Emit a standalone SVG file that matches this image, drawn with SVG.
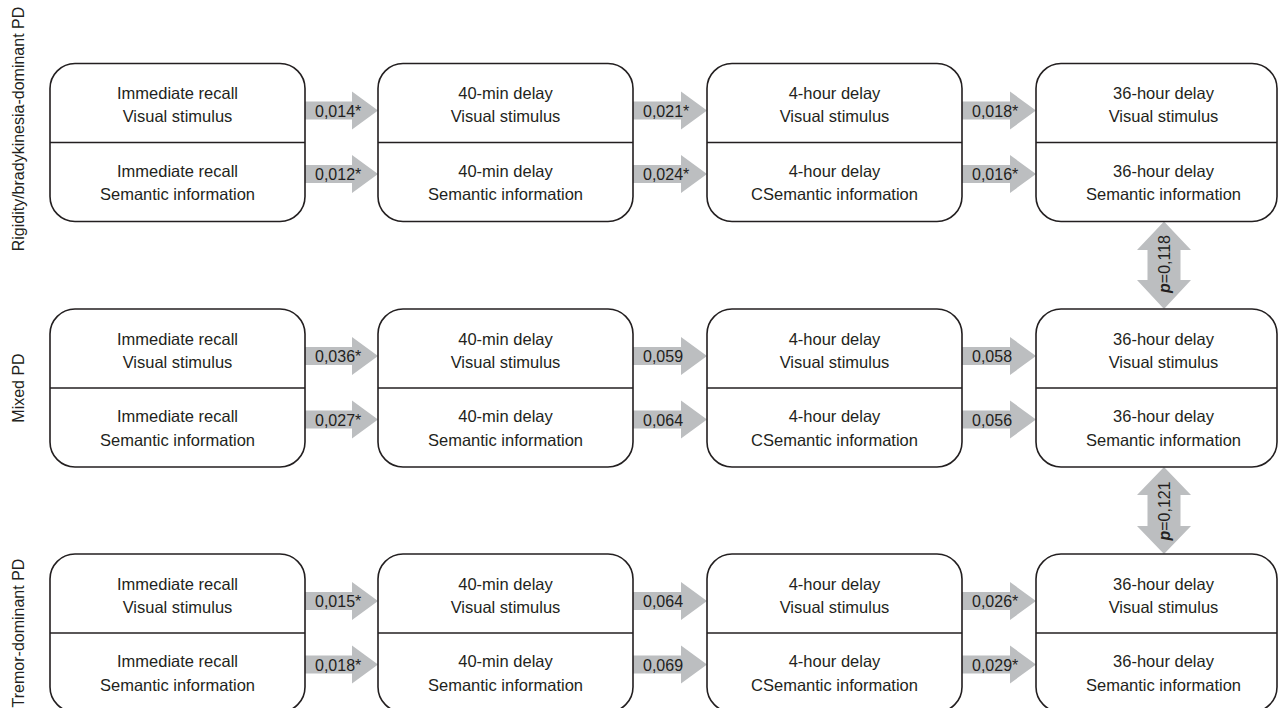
<svg xmlns="http://www.w3.org/2000/svg" width="1279" height="708" viewBox="0 0 1279 708">
<style>
.box{fill:#fff;stroke:#231f20;stroke-width:1.6}
.div{stroke:#231f20;stroke-width:1.6}
.t{font-family:"Liberation Sans",Arial,sans-serif;font-size:16.5px;fill:#231f20;text-anchor:middle}
.lab{font-family:"Liberation Sans",Arial,sans-serif;font-size:16px;fill:#231f20}
.side{font-family:"Liberation Sans",Arial,sans-serif;font-size:16px;fill:#231f20;text-anchor:middle}
.arr{fill:#bcbec0}
</style>
<rect width="1279" height="708" fill="#fff"/>
<g id="side-labels">
<text class="side" transform="translate(24,129) rotate(-90)">Rigidity/bradykinesia-dominant PD</text>
<text class="side" transform="translate(24,388) rotate(-90)">Mixed PD</text>
<text class="side" transform="translate(24,633) rotate(-90)">Tremor-dominant PD</text>
</g>
<g id="connectors">
<path class="arr" d="M305,101.5H352V91.5L378,110.5L352,129.5V119.5H305Z"/>
<path class="arr" d="M305,165H352V155L378,174L352,193V183H305Z"/>
<path class="arr" d="M633,101.5H681V91.5L707,110.5L681,129.5V119.5H633Z"/>
<path class="arr" d="M633,165H681V155L707,174L681,193V183H633Z"/>
<path class="arr" d="M962,101.5H1010V91.5L1036,110.5L1010,129.5V119.5H962Z"/>
<path class="arr" d="M962,165H1010V155L1036,174L1010,193V183H962Z"/>
<path class="arr" d="M305,347H352V337L378,356L352,375V365H305Z"/>
<path class="arr" d="M305,410.5H352V400.5L378,419.5L352,438.5V428.5H305Z"/>
<path class="arr" d="M633,347H681V337L707,356L681,375V365H633Z"/>
<path class="arr" d="M633,410.5H681V400.5L707,419.5L681,438.5V428.5H633Z"/>
<path class="arr" d="M962,347H1010V337L1036,356L1010,375V365H962Z"/>
<path class="arr" d="M962,410.5H1010V400.5L1036,419.5L1010,438.5V428.5H962Z"/>
<path class="arr" d="M305,592H352V582L378,601L352,620V610H305Z"/>
<path class="arr" d="M305,655.5H352V645.5L378,664.5L352,683.5V673.5H305Z"/>
<path class="arr" d="M633,592H681V582L707,601L681,620V610H633Z"/>
<path class="arr" d="M633,655.5H681V645.5L707,664.5L681,683.5V673.5H633Z"/>
<path class="arr" d="M962,592H1010V582L1036,601L1010,620V610H962Z"/>
<path class="arr" d="M962,655.5H1010V645.5L1036,664.5L1010,683.5V673.5H962Z"/>
<path class="arr" d="M1164,221.5L1191,250H1180.5V280H1191L1164,309L1137,280H1147.5V250H1137Z"/>
<path class="arr" d="M1164,467L1191,495H1180.5V526H1191L1164,554L1137,526H1147.5V495H1137Z"/>
<g class="lab">
<text x="315" y="116.5">0,014*</text>
<text x="315" y="179.5">0,012*</text>
<text x="643" y="116.5">0,021*</text>
<text x="643" y="179.5">0,024*</text>
<text x="972" y="116.5">0,018*</text>
<text x="972" y="179.5">0,016*</text>
<text x="315" y="362">0,036*</text>
<text x="315" y="425.5">0,027*</text>
<text x="643" y="362">0,059</text>
<text x="643" y="425.5">0,064</text>
<text x="972" y="362">0,058</text>
<text x="972" y="425.5">0,056</text>
<text x="315" y="607">0,015*</text>
<text x="315" y="670.5">0,018*</text>
<text x="643" y="607">0,064</text>
<text x="643" y="670.5">0,069</text>
<text x="972" y="607">0,026*</text>
<text x="972" y="670.5">0,029*</text>
</g>
<text class="lab" text-anchor="middle" transform="translate(1169.5,264) rotate(-90)"><tspan font-style="italic" font-weight="bold">p</tspan>=0,118</text>
<text class="lab" text-anchor="middle" transform="translate(1169.5,511) rotate(-90)"><tspan font-style="italic" font-weight="bold">p</tspan>=0,121</text>
</g>
<g id="r1c1"><rect class="box" x="50" y="63.5" width="255" height="158" rx="25"/><line class="div" x1="50" y1="142.5" x2="305" y2="142.5"/>
<text class="t" x="177.5" y="99">Immediate recall</text><text class="t" x="177.5" y="122">Visual stimulus</text>
<text class="t" x="177.5" y="176.5">Immediate recall</text><text class="t" x="177.5" y="200">Semantic information</text></g>
<g id="r1c2"><rect class="box" x="378" y="63.5" width="255" height="158" rx="25"/><line class="div" x1="378" y1="142.5" x2="633" y2="142.5"/>
<text class="t" x="505.5" y="99">40-min delay</text><text class="t" x="505.5" y="122">Visual stimulus</text>
<text class="t" x="505.5" y="176.5">40-min delay</text><text class="t" x="505.5" y="200">Semantic information</text></g>
<g id="r1c3"><rect class="box" x="707" y="63.5" width="255" height="158" rx="25"/><line class="div" x1="707" y1="142.5" x2="962" y2="142.5"/>
<text class="t" x="834.5" y="99">4-hour delay</text><text class="t" x="834.5" y="122">Visual stimulus</text>
<text class="t" x="834.5" y="176.5">4-hour delay</text><text class="t" x="834.5" y="200">CSemantic information</text></g>
<g id="r1c4"><rect class="box" x="1036" y="63.5" width="241" height="158" rx="25"/><line class="div" x1="1036" y1="142.5" x2="1277" y2="142.5"/>
<text class="t" x="1163.5" y="99">36-hour delay</text><text class="t" x="1163.5" y="122">Visual stimulus</text>
<text class="t" x="1163.5" y="176.5">36-hour delay</text><text class="t" x="1163.5" y="200">Semantic information</text></g>
<g id="r2c1"><rect class="box" x="50" y="309" width="255" height="158" rx="25"/><line class="div" x1="50" y1="388" x2="305" y2="388"/>
<text class="t" x="177.5" y="344.5">Immediate recall</text><text class="t" x="177.5" y="367.5">Visual stimulus</text>
<text class="t" x="177.5" y="422">Immediate recall</text><text class="t" x="177.5" y="445.5">Semantic information</text></g>
<g id="r2c2"><rect class="box" x="378" y="309" width="255" height="158" rx="25"/><line class="div" x1="378" y1="388" x2="633" y2="388"/>
<text class="t" x="505.5" y="344.5">40-min delay</text><text class="t" x="505.5" y="367.5">Visual stimulus</text>
<text class="t" x="505.5" y="422">40-min delay</text><text class="t" x="505.5" y="445.5">Semantic information</text></g>
<g id="r2c3"><rect class="box" x="707" y="309" width="255" height="158" rx="25"/><line class="div" x1="707" y1="388" x2="962" y2="388"/>
<text class="t" x="834.5" y="344.5">4-hour delay</text><text class="t" x="834.5" y="367.5">Visual stimulus</text>
<text class="t" x="834.5" y="422">4-hour delay</text><text class="t" x="834.5" y="445.5">CSemantic information</text></g>
<g id="r2c4"><rect class="box" x="1036" y="309" width="241" height="158" rx="25"/><line class="div" x1="1036" y1="388" x2="1277" y2="388"/>
<text class="t" x="1163.5" y="344.5">36-hour delay</text><text class="t" x="1163.5" y="367.5">Visual stimulus</text>
<text class="t" x="1163.5" y="422">36-hour delay</text><text class="t" x="1163.5" y="445.5">Semantic information</text></g>
<g id="r3c1"><rect class="box" x="50" y="554" width="255" height="158" rx="25"/><line class="div" x1="50" y1="633" x2="305" y2="633"/>
<text class="t" x="177.5" y="589.5">Immediate recall</text><text class="t" x="177.5" y="612.5">Visual stimulus</text>
<text class="t" x="177.5" y="667">Immediate recall</text><text class="t" x="177.5" y="690.5">Semantic information</text></g>
<g id="r3c2"><rect class="box" x="378" y="554" width="255" height="158" rx="25"/><line class="div" x1="378" y1="633" x2="633" y2="633"/>
<text class="t" x="505.5" y="589.5">40-min delay</text><text class="t" x="505.5" y="612.5">Visual stimulus</text>
<text class="t" x="505.5" y="667">40-min delay</text><text class="t" x="505.5" y="690.5">Semantic information</text></g>
<g id="r3c3"><rect class="box" x="707" y="554" width="255" height="158" rx="25"/><line class="div" x1="707" y1="633" x2="962" y2="633"/>
<text class="t" x="834.5" y="589.5">4-hour delay</text><text class="t" x="834.5" y="612.5">Visual stimulus</text>
<text class="t" x="834.5" y="667">4-hour delay</text><text class="t" x="834.5" y="690.5">CSemantic information</text></g>
<g id="r3c4"><rect class="box" x="1036" y="554" width="241" height="158" rx="25"/><line class="div" x1="1036" y1="633" x2="1277" y2="633"/>
<text class="t" x="1163.5" y="589.5">36-hour delay</text><text class="t" x="1163.5" y="612.5">Visual stimulus</text>
<text class="t" x="1163.5" y="667">36-hour delay</text><text class="t" x="1163.5" y="690.5">Semantic information</text></g>
</svg>
